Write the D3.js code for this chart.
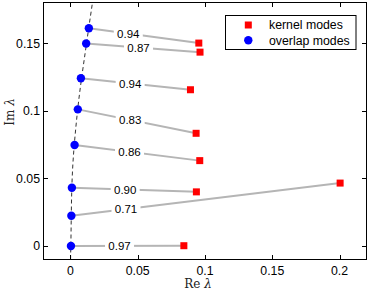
<!DOCTYPE html>
<html>
<head>
<meta charset="utf-8">
<script src="https://cdn.jsdelivr.net/npm/d3@7/dist/d3.min.js"></script>
<style>
  html, body { margin: 0; padding: 0; background: #fff; }
  svg { display: block; }
</style>
</head>
<body>
<svg id="chart" width="377" height="291"></svg>
<script>
// ---- data ----
const overlapRe = [0.0004, 0.0007, 0.0011, 0.0031, 0.0055, 0.0078, 0.0117, 0.0137];
const overlapIm = [0.0000, 0.0223, 0.0430, 0.0747, 0.1010, 0.1240, 0.1497, 0.1610];
const kernelRe  = [0.0843, 0.2004, 0.0936, 0.0961, 0.0934, 0.0892, 0.0963, 0.0954];
const kernelIm  = [0.0002, 0.0465, 0.0400, 0.0631, 0.0833, 0.1155, 0.1433, 0.1500];
const overlapLabels = ["0.97", "0.71", "0.90", "0.86", "0.83", "0.94", "0.87", "0.94"];
const labelRe   = [0.0365, 0.0413, 0.0407, 0.0439, 0.0444, 0.0444, 0.0506, 0.0430];
const curveRe   = [0.0001, 0.0003, 0.0013, 0.0053, 0.0120, 0.0164];
const curveIm   = [-0.010, 0.000, 0.050, 0.100, 0.150, 0.180];
const xTicks = [0, 0.05, 0.1, 0.15, 0.2];
const xTickLabels = ["0", "0.05", "0.1", "0.15", "0.2"];
const yTicks = [0, 0.05, 0.1, 0.15];
const yTickLabels = ["0", "0.05", "0.1", "0.15"];
const legendLabels = ["kernel modes", "overlap modes"];

// ---- layout ----
const svg = d3.select("#chart");
const L = 43.5, R = 366.5, T = 2.5, B = 259.5;
const x = d3.scaleLinear().domain([-0.02, 0.22]).range([L, R]);
const y = d3.scaleLinear().domain([-0.01, 0.18]).range([B, T]);
const sans = "'Liberation Sans', Arial, Helvetica, sans-serif";
const serif = "'DejaVu Serif', 'Liberation Serif', serif";

const plot = svg.append("g");

// connecting lines
const pairs = overlapRe.map((d, i) => ({
  x0: overlapRe[i], y0: overlapIm[i], x1: kernelRe[i], y1: kernelIm[i],
  label: overlapLabels[i], lx: labelRe[i]
}));

plot.selectAll("line.conn").data(pairs).join("line")
  .attr("class", "conn")
  .attr("x1", d => x(d.x0)).attr("y1", d => y(d.y0))
  .attr("x2", d => x(d.x1)).attr("y2", d => y(d.y1))
  .attr("stroke", "#b5b5b5").attr("stroke-width", 2);

// labels with white background
const lab = plot.selectAll("g.lab").data(pairs).join("g").attr("class", "lab")
  .attr("transform", d => {
    const t = (d.lx - d.x0) / (d.x1 - d.x0);
    const yy = d.y0 + t * (d.y1 - d.y0);
    return `translate(${x(d.lx)},${y(yy)})`;
  });
lab.append("rect").attr("x", -14.5).attr("y", -6).attr("width", 29).attr("height", 12).attr("fill", "#fff");
lab.append("text").text(d => d.label)
  .attr("text-anchor", "middle").attr("dy", "0.36em")
  .attr("font-family", sans).attr("font-size", 11.5).attr("fill", "#000");

// dashed curve
const curvePts = curveRe.map((d, i) => [x(curveRe[i]), y(curveIm[i])]);
plot.append("path")
  .attr("d", d3.line().curve(d3.curveMonotoneY)(curvePts))
  .attr("fill", "none").attr("stroke", "#333").attr("stroke-width", 1)
  .attr("stroke-dasharray", "4,3");

// overlap modes
plot.selectAll("circle.ov").data(pairs).join("circle")
  .attr("cx", d => x(d.x0)).attr("cy", d => y(d.y0)).attr("r", 4.2)
  .attr("fill", "#0000ff");

// kernel modes
const S = 7;
plot.selectAll("rect.kn").data(pairs).join("rect")
  .attr("x", d => x(d.x1) - S / 2).attr("y", d => y(d.y1) - S / 2)
  .attr("width", S).attr("height", S).attr("fill", "#ff0000");

// ---- axes / frame ----
const ax = svg.append("g").attr("stroke", "#000").attr("stroke-width", 1);
ax.append("rect").attr("x", L).attr("y", T).attr("width", R - L).attr("height", B - T)
  .attr("fill", "none");
const tl = 4.5;
xTicks.forEach(v => {
  const xx = Math.round(x(v)) + 0.5;
  ax.append("line").attr("x1", xx).attr("x2", xx).attr("y1", B).attr("y2", B - tl);
  ax.append("line").attr("x1", xx).attr("x2", xx).attr("y1", T).attr("y2", T + tl);
});
yTicks.forEach(v => {
  const yy = Math.round(y(v)) + 0.5;
  ax.append("line").attr("y1", yy).attr("y2", yy).attr("x1", L).attr("x2", L + tl);
  ax.append("line").attr("y1", yy).attr("y2", yy).attr("x1", R).attr("x2", R - tl);
});
svg.append("g").selectAll("text").data(xTicks).join("text")
  .attr("x", d => x(d)).attr("y", 274.5)
  .attr("text-anchor", "middle").attr("font-family", sans).attr("font-size", 12.3)
  .text((d, i) => xTickLabels[i]);
svg.append("g").selectAll("text").data(yTicks).join("text")
  .attr("x", 40).attr("y", d => y(d)).attr("dy", "0.36em")
  .attr("text-anchor", "end").attr("font-family", sans).attr("font-size", 12.3)
  .text((d, i) => yTickLabels[i]);

// axis titles
const xt = svg.append("text").attr("x", 198).attr("y", 288)
  .attr("text-anchor", "middle").attr("font-family", serif).attr("font-size", 12).attr("fill", "#222");
xt.append("tspan").text("Re ");
xt.append("tspan").attr("font-style", "italic").text("λ");
const yt = svg.append("text").attr("transform", "translate(14,112) rotate(-90)")
  .attr("text-anchor", "middle").attr("font-family", serif).attr("font-size", 12).attr("fill", "#222");
yt.append("tspan").text("Im ");
yt.append("tspan").attr("font-style", "italic").text("λ");

// ---- legend ----
const lg = svg.append("g");
lg.append("rect").attr("x", 225.5).attr("y", 15.5).attr("width", 130.5).attr("height", 34)
  .attr("fill", "#fff").attr("stroke", "#000").attr("stroke-width", 1);
lg.append("rect").attr("x", 248.3 - S / 2).attr("y", 25 - S / 2).attr("width", S).attr("height", S).attr("fill", "#ff0000");
lg.append("circle").attr("cx", 248.3).attr("cy", 40.3).attr("r", 4.2).attr("fill", "#0000ff");
lg.selectAll("text").data(legendLabels).join("text")
  .attr("x", 269).attr("y", (d, i) => 25 + i * 15.3).attr("dy", "0.36em")
  .attr("font-family", sans).attr("font-size", 12.3).text(d => d);
</script>
</body>
</html>
